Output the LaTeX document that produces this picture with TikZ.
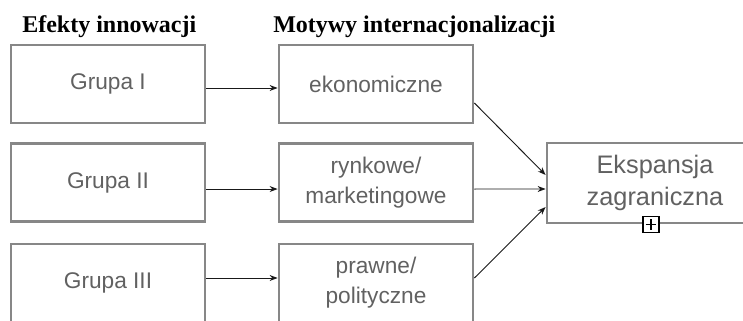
\documentclass[tikz,border=0pt]{standalone}
\usepackage{fontspec}
\setmainfont{Liberation Serif}
\setsansfont{Liberation Sans}
\usetikzlibrary{arrows.meta}

\tikzset{
    mi head/.style={anchor=base west, inner sep=0pt,
                    font=\fontsize{18}{20}\selectfont\bfseries},
    mi box/.style={rectangle, draw=black!47, line width=2.1pt,
                   minimum width=145.5pt, minimum height=58.5pt,
                   align=center, text=black!62,
                   font=\sffamily\fontsize{17}{22.5}\selectfont},
    mi goal/.style={mi box, minimum width=162pt, minimum height=60pt,
                    font=\sffamily\fontsize{19}{24}\selectfont},
    mi arrow/.style={-{Stealth[length=6pt,width=4.5pt]}, line width=0.7pt,
                     black!90},
    mi toggle/.style={rectangle, draw=black, line width=0.9pt, fill=white,
                      minimum size=12pt, inner sep=0pt,
                      path picture={
                        \draw[line width=0.9pt]
                          ([xshift=2pt]path picture bounding box.west) --
                          ([xshift=-2pt]path picture bounding box.east)
                          ([yshift=-2pt]path picture bounding box.north) --
                          ([yshift=2pt]path picture bounding box.south);}},
}

\begin{document}
\begin{tikzpicture}[x=0.75pt, y=-0.75pt]
    \useasboundingbox (0,0) rectangle (743,321);
    % Column headings
    \node[mi head] (h1) at (22,33) {Efekty innowacji};
    \node[mi head] (h2) at (273,33) {Motywy internacjonalizacji};
    % Innovation groups
    \node[mi box] (g1) at (108,84) {Grupa I};
    \node[mi box] (g2) at (108,182.5) {Grupa II};
    \node[mi box] (g3) at (108,283) {Grupa III};
    % Motives
    \node[mi box] (m1) at (376,84) {ekonomiczne};
    \node[mi box] (m2) at (376,182.5) {rynkowe/\\marketingowe};
    \node[mi box] (m3) at (376,283) {prawne/\\polityczne};
    % Result
    \node[mi goal] (exp) at (655,183) {Ekspansja\\zagraniczna};
    \node[mi toggle] (tog) at ([xshift=-3pt]exp.south) {};
    % Connectors
    \draw[mi arrow] ([yshift=-3pt]g1.east) -- ([yshift=-3pt]m1.west);
    \draw[mi arrow] ([yshift=-4.9pt]g2.east) -- ([yshift=-4.9pt]m2.west);
    \draw[mi arrow] ([yshift=3.75pt]g3.east) -- ([yshift=3.75pt]m3.west);
    \draw[mi arrow] ([yshift=-14.25pt]m1.east) -- ([yshift=6pt]exp.west);
    \draw[mi arrow] ([yshift=-4.9pt]m2.east) -- ([yshift=-4.5pt]exp.west);
    \draw[mi arrow] ([yshift=3.75pt]m3.east) -- ([yshift=-18pt]exp.west);
\end{tikzpicture}
\end{document}
